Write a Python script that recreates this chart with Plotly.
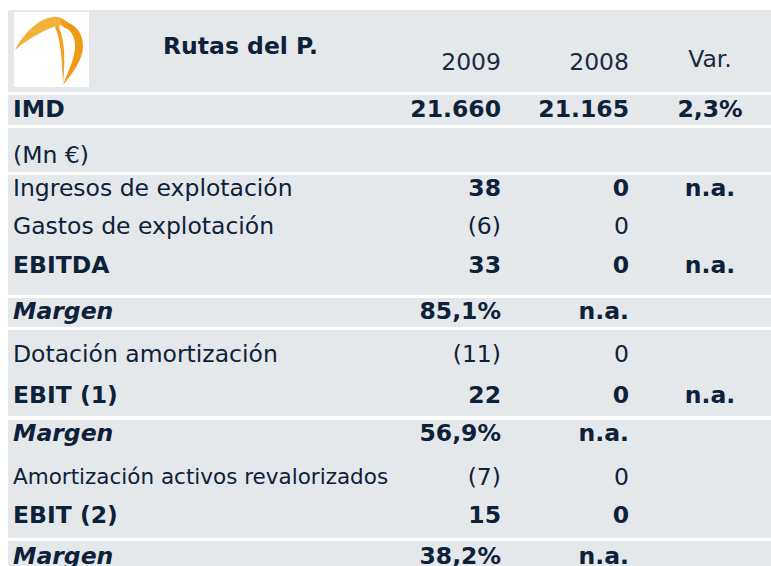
import plotly.graph_objects as go

# table content
labels = ["(Mn €)", "Ingresos de explotación", "Gastos de explotación", "EBITDA", "Margen",
          "Dotación amortización", "EBIT (1)", "Margen",
          "Amortización activos revalorizados", "EBIT (2)", "Margen"]
v2009 = ["", "38", "(6)", "33", "85,1%", "(11)", "22", "56,9%", "(7)", "15", "38,2%"]
v2008 = ["", "0", "0", "0", "n.a.", "0", "0", "n.a.", "0", "0", "n.a."]
var = ["", "n.a.", "", "n.a.", "", "", "n.a.", "", "", "", ""]
# row style: n = normal, b = bold row, i = italic margin row, v = bold values only, s = small
row_style = ["n", "v", "n", "b", "i", "n", "b", "i", "s", "b", "i"]

company = "Rutas del P."
years = ["2009", "2008"]
var_head = "Var."
imd = ["IMD", "21.660", "21.165", "2,3%"]

# layout (page pixels, y grows downward)
W, H = 771, 566
row_y = [157, 190, 228, 267, 313, 356, 397, 435, 479, 517, 558]
band_top = [10, 95, 128, 175, 298, 330, 420, 541]
band_bot = [92, 125, 172, 295, 327, 416, 538, 580]
x_lab, x_09, x_08, x_var = 13, 501, 629, 710

bg = "#e4e8eb"
ink = "#0d2139"
font = "DejaVu Sans"
fs = 23.5


def fmt(s, bold=False, italic=False):
    if not s:
        return ""
    if bold:
        s = f"<b>{s}</b>"
    if italic:
        s = f"<i>{s}</i>"
    return s


fig = go.Figure()

# row bands
fig.add_trace(go.Bar(
    orientation="h",
    y=[(t + b) / 2 for t, b in zip(band_top, band_bot)],
    x=[W] * len(band_top),
    base=8,
    width=[b - t for t, b in zip(band_top, band_bot)],
    marker=dict(color=bg, line=dict(width=0)),
    hoverinfo="skip",
))

lab_txt = [fmt(l, bold=st in "bi", italic=st == "i") for l, st in zip(labels, row_style)]
lab_size = [21.5 if st == "s" else fs for st in row_style]
v09_txt = [fmt(v, bold=st in "biv") for v, st in zip(v2009, row_style)]
v08_txt = [fmt(v, bold=st in "biv") for v, st in zip(v2008, row_style)]
var_txt = [fmt(v, bold=True) for v in var]

# IMD row on top
lab_txt = [fmt(imd[0], bold=True)] + lab_txt
lab_size = [fs] + lab_size
v09_txt = [fmt(imd[1], bold=True)] + v09_txt
v08_txt = [fmt(imd[2], bold=True)] + v08_txt
var_txt = [fmt(imd[3], bold=True)] + var_txt
ys = [111] + row_y

common = dict(mode="text", hoverinfo="skip", cliponaxis=False)
fig.add_trace(go.Scatter(x=[x_lab] * len(ys), y=ys, text=lab_txt, textposition="middle right",
                         textfont=dict(family=font, size=lab_size, color=ink), **common))
fig.add_trace(go.Scatter(x=[x_09] * len(ys), y=ys, text=v09_txt, textposition="middle left",
                         textfont=dict(family=font, size=fs, color=ink), **common))
fig.add_trace(go.Scatter(x=[x_08] * len(ys), y=ys, text=v08_txt, textposition="middle left",
                         textfont=dict(family=font, size=fs, color=ink), **common))
fig.add_trace(go.Scatter(x=[x_var] * len(ys), y=ys, text=var_txt, textposition="middle center",
                         textfont=dict(family=font, size=fs, color=ink), **common))

# header
fig.add_trace(go.Scatter(x=[163], y=[48], text=[fmt(company, bold=True)], textposition="middle right",
                         textfont=dict(family=font, size=fs, color=ink), **common))
fig.add_trace(go.Scatter(x=[x_09, x_08], y=[64, 64], text=years, textposition="middle left",
                         textfont=dict(family=font, size=fs, color="#1b2b40"), **common))
fig.add_trace(go.Scatter(x=[x_var], y=[61], text=[var_head], textposition="middle center",
                         textfont=dict(family=font, size=fs, color="#1b2b40"), **common))

# logo
fig.add_shape(type="rect", x0=14, x1=89, y0=12, y1=87, fillcolor="white", line_width=0)
fig.add_shape(type="path",
              path="M 15 50 C 24 33, 38 19, 53 17 C 60 16, 67 20, 70 26 "
                   "C 62 24, 52 27, 42 32 C 32 37, 22 44, 15 50 Z",
              fillcolor="#f3b23a", line_width=0)
fig.add_shape(type="path",
              path="M 60 20 C 72 22, 83 30, 83 46 C 83 60, 72 74, 63 85 "
                   "C 68 72, 75 58, 75 46 C 75 35, 70 29, 63 27 Z",
              fillcolor="#ee9a14", line_width=0)
fig.add_shape(type="path",
              path="M 58 25 C 64 38, 66 55, 63 85 C 62 60, 61 40, 55 27 Z",
              fillcolor="#f0a225", line_width=0)

fig.update_layout(
    width=W, height=H,
    margin=dict(l=0, r=0, t=0, b=0),
    plot_bgcolor="white", paper_bgcolor="white",
    showlegend=False,
    xaxis=dict(range=[0, W], visible=False, fixedrange=True),
    yaxis=dict(range=[H, 0], visible=False, fixedrange=True),
)

# drop the default page margin so the figure sits at the window origin
fig.write_html("out.html", config={"displayModeBar": False},
               post_script="document.body.style.margin='0';")
